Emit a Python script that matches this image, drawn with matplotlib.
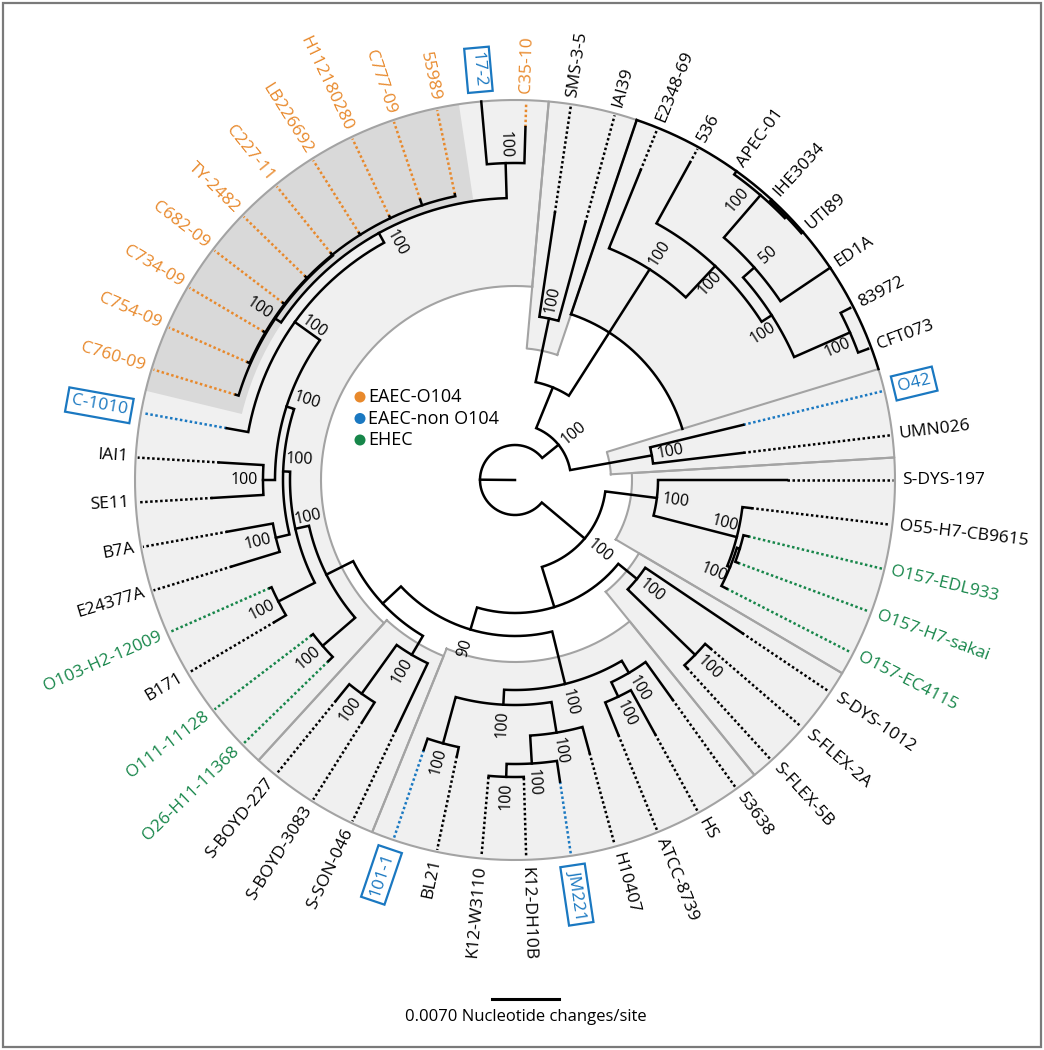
import numpy as np
import matplotlib.pyplot as plt
from matplotlib.patches import Wedge, Circle, Rectangle

# leaves in counter-clockwise order, starting just above 3 o'clock
leaves = ["UMN026", "O42", "CFT073", "83972", "ED1A", "UTI89", "IHE3034", "APEC-01",
          "536", "E2348-69", "IAI39", "SMS-3-5", "C35-10", "17-2", "55989", "C777-09",
          "H112180280", "LB226692", "C227-11", "TY-2482", "C682-09", "C734-09", "C754-09",
          "C760-09", "C-1010", "IAI1", "SE11", "B7A", "E24377A", "O103-H2-12009", "B171",
          "O111-11128", "O26-H11-11368", "S-BOYD-227", "S-BOYD-3083", "S-SON-046", "101-1",
          "BL21", "K12-W3110", "K12-DH10B", "JM221", "H10407", "ATCC-8739", "HS", "53638",
          "S-FLEX-5B", "S-FLEX-2A", "S-DYS-1012", "O157-EC4115", "O157-H7-sakai",
          "O157-EDL933", "O55-H7-CB9615", "S-DYS-197"]

# depth (distance from root) where each leaf's solid branch ends; scale bar = 67 units
leaf_depth = {"UMN026": 230, "O42": 235, "CFT073": 376, "83972": 376, "ED1A": 380,
              "UTI89": 380, "IHE3034": 380, "APEC-01": 380, "536": 362, "E2348-69": 334,
              "IAI39": 267, "SMS-3-5": 270, "C35-10": 353, "17-2": 380, "55989": 292,
              "C777-09": 296, "H112180280": 292, "LB226692": 292, "C227-11": 292,
              "TY-2482": 292, "C682-09": 292, "C734-09": 292, "C754-09": 292, "C760-09": 292,
              "C-1010": 293, "IAI1": 296, "SE11": 303, "B7A": 292, "E24377A": 296,
              "O103-H2-12009": 268, "B171": 279, "O111-11128": 256, "O26-H11-11368": 260,
              "S-BOYD-227": 284, "S-BOYD-3083": 286, "S-SON-046": 277, "101-1": 285,
              "BL21": 282, "K12-W3110": 298, "K12-DH10B": 298, "JM221": 305, "H10407": 283,
              "ATCC-8739": 275, "HS": 290, "53638": 270, "S-FLEX-5B": 255, "S-FLEX-2A": 258,
              "S-DYS-1012": 274, "O157-EC4115": 238, "O157-H7-sakai": 238,
              "O157-EDL933": 240, "O55-H7-CB9615": 238, "S-DYS-197": 272}

# internal nodes: (name, depth, bootstrap, children)
tree = ("root", 35, None, [
    ("A", 56, "100", [
        ("OU", 139, "100", ["UMN026", "O42"]),
        ("B", 100, None, [
            ("D", 165, "100", ["IAI39", "SMS-3-5"]),
            ("C", 250, "100", [
                "E2348-69",
                ("C2", 293, "100", [
                    "536",
                    ("I", 305, "100", [
                        ("E", 366, "100", ["CFT073", "83972"]),
                        ("H", 320, "50", [
                            "ED1A",
                            ("G", 376, "100", [("IU", 378, None, ["UTI89", "IHE3034"]),
                                               "APEC-01"])]),
                    ]),
                ]),
            ]),
        ]),
    ]),
    ("K", 91, "100", [
        ("K1", 143, "100", [
            "S-DYS-197",
            ("K2", 229, "100", [
                "O55-H7-CB9615",
                ("L", 232, "100", ["O157-EC4115",
                                   ("M", 235, None, ["O157-H7-sakai", "O157-EDL933"])]),
            ]),
        ]),
        ("K3", 133, None, [
            ("N", 157, "100", ["S-DYS-1012", ("O", 251, "100", ["S-FLEX-2A", "S-FLEX-5B"])]),
            ("P", 156, "90", [
                ("Q", 210, "100", [
                    ("R", 224, "100", ["53638", ("S", 240, "100", ["HS", "ATCC-8739"])]),
                    ("W", 225, "100", [
                        ("U", 256, "100", [
                            "H10407",
                            ("V", 284, "100", ["JM221",
                                               ("Z", 297, "100", ["K12-DH10B", "K12-W3110"])])]),
                        ("Y", 273, "100", ["BL21", "101-1"]),
                    ]),
                ]),
                ("AA", 181, None, [
                    ("AB", 203, "100", ["S-SON-046",
                                        ("AC", 263, "100", ["S-BOYD-3083", "S-BOYD-227"])]),
                    ("AD", 211, None, [
                        ("OO", 254, "100", ["O26-H11-11368", "O111-11128"]),
                        ("AE", 225, "100", [
                            ("OB2", 266, "100", ["B171", "O103-H2-12009"]),
                            ("EG", 232, "100", [
                                ("BE", 246, "100", ["E24377A", "B7A"]),
                                ("ED", 240, "100", [
                                    ("EF", 252, "100", ["SE11", "IAI1"]),
                                    ("EC", 271, "100", [
                                        "C-1010",
                                        ("EB", 282, "100", [
                                            ("OB", 289, "100", [
                                                "C760-09",
                                                ("OC", 290, None, [
                                                    "C754-09", "C734-09", "C682-09", "TY-2482",
                                                    "C227-11", "LB226692", "H112180280",
                                                    "C777-09", "55989"])]),
                                            ("EA", 317, "100", ["17-2", "C35-10"]),
                                        ]),
                                    ]),
                                ]),
                            ]),
                        ]),
                    ]),
                ]),
            ]),
        ]),
    ]),
])

eaec_o104 = ["C35-10", "55989", "C777-09", "H112180280", "LB226692", "C227-11", "TY-2482",
             "C682-09", "C734-09", "C754-09", "C760-09"]
eaec_non_o104 = ["17-2", "C-1010", "O42", "101-1", "JM221"]
ehec = ["O103-H2-12009", "O111-11128", "O26-H11-11368", "O157-EC4115", "O157-H7-sakai",
        "O157-EDL933"]

# shaded clades: (first leaf, last leaf, inner depth)
clades = [("UMN026", "O42", 96), ("CFT073", "E2348-69", 175), ("IAI39", "SMS-3-5", 132),
          ("C35-10", "O26-H11-11368", 194), ("S-BOYD-227", "S-SON-046", 190),
          ("101-1", "53638", 182), ("S-FLEX-5B", "S-DYS-1012", 144),
          ("O157-EC4115", "S-DYS-197", 117)]
o104_clade = ("55989", "C760-09", 281)

legend_names = ["EAEC-O104", "EAEC-non O104", "EHEC"]
scale_len = 67
scale_label = "0.0070 Nucleotide changes/site"

# ---- style ----
ORANGE, BLUE, GREEN = "#e8892c", "#1a78c1", "#17864a"
LIGHT, DARK, EDGE = "#f0f0f0", "#d9d9d9", "#a3a3a3"
FONT = "Open Sans"
R_TIP = 380
LW = 1.8

# bootstrap labels placed beside the stem instead of beyond the node: (dr, dp)
beside = {"K2": (-15, 10), "L": (-13, -11), "C2": (-16, -8), "I": (-17, -10), "G": (-19, 14),
          "E": (-18, -9), "EB": (-17, -11), "EC": (-18, -7), "ED": (-17, -12),
          "EG": (-16, -12), "AE": (-15, -9)}

step = 360.0 / len(leaves)
ang = {n: (i + 1) * step for i, n in enumerate(leaves)}


def pol(r, a):
    t = np.deg2rad(a)
    return r * np.cos(t), r * np.sin(t)


def color_of(n):
    if n in eaec_o104:
        return ORANGE
    if n in eaec_non_o104:
        return BLUE
    if n in ehec:
        return GREEN
    return "black"


fig = plt.figure(figsize=(10.44, 10.5), dpi=100)
ax = fig.add_axes([0, 0, 1, 1])
ax.set_xlim(-515, 529)
ax.set_ylim(-570, 480)
ax.axis("off")

# clade shading
for a, b, rin in clades:
    t1, t2 = ang[a] - step / 2, ang[b] + step / 2
    ax.add_patch(Wedge((0, 0), R_TIP, t1, t2, width=R_TIP - rin, fc=LIGHT, ec="none", zorder=1))
a, b, rin = o104_clade
ax.add_patch(Wedge((0, 0), R_TIP, ang[a] - step / 2, ang[b] + step / 2, width=R_TIP - rin,
                   fc=DARK, ec="none", zorder=1.5))
for a, b, rin in clades:
    t1, t2 = ang[a] - step / 2, ang[b] + step / 2
    ec = "black" if a == "CFT073" else EDGE
    tt = np.linspace(t1, t2, 200)
    if a == "CFT073":
        ax.plot(*pol(np.full_like(tt, rin), tt), color=ec, lw=LW, zorder=2)
        ax.plot(*pol(np.full_like(tt, R_TIP), tt), color=ec, lw=LW, zorder=2)
        ax.plot(*pol(np.array([rin, R_TIP]), np.array([t2, t2])), color=ec, lw=LW, zorder=2)
        continue
    xs, ys = pol(np.concatenate([[rin], np.full_like(tt, R_TIP), [rin]]),
                 np.concatenate([[t1], tt, [t2]]))
    xi, yi = pol(np.full_like(tt, rin), tt[::-1])
    ax.plot(np.concatenate([xs, xi]), np.concatenate([ys, yi]), color=ec, lw=1.5, zorder=1.8)


def draw(node):
    """draw a subtree, return its angle"""
    if isinstance(node, str):
        return ang[node]
    name, r, boot, kids = node
    kid_ang, kid_r = [], []
    for k in kids:
        kid_ang.append(draw(k))
        kid_r.append(leaf_depth[k] if isinstance(k, str) else k[1])
    order = np.argsort(kid_ang)
    a0, a1 = kid_ang[order[0]], kid_ang[order[-1]]
    tt = np.linspace(a0, a1, max(int(a1 - a0) * 3, 2))
    rr = np.concatenate([[kid_r[order[0]]], np.full_like(tt, r), [kid_r[order[-1]]]])
    aa = np.concatenate([[a0], tt, [a1]])
    ax.plot(*pol(rr, aa), color="black", lw=LW, solid_joinstyle="miter", zorder=4)
    for i in order[1:-1]:
        ax.plot(*pol(np.array([r, kid_r[i]]), np.array([kid_ang[i]] * 2)), color="black",
                lw=LW, zorder=4)
    a = (a0 + a1) / 2
    if boot:
        dr, dp = beside.get(name, (19, 0))
        x, y = pol(r + dr, a)
        t = np.deg2rad(a)
        x, y = x - dp * np.sin(t), y + dp * np.cos(t)
        rot = a if np.cos(t) >= 0 else a - 180
        ax.text(x, y, boot, fontsize=11.5, family=FONT, rotation=rot, ha="center",
                va="center", rotation_mode="anchor", zorder=6)
    return a


root_a = draw(tree)
ax.plot(*pol(np.array([0, tree[1]]), np.array([root_a, root_a])), color="black", lw=LW, zorder=4)

# dotted extensions and leaf labels
for n in leaves:
    a, d = ang[n], leaf_depth[n]
    c = color_of(n)
    if d < R_TIP - 2:
        ax.plot(*pol(np.array([d, R_TIP - 2]), np.array([a, a])), color=c, lw=LW,
                linestyle=(0, (1, 1)), dash_capstyle="butt", zorder=3)
    boxed = n in eaec_non_o104
    x, y = pol(R_TIP + (14 if boxed else 7), a)
    right = np.cos(np.deg2rad(a)) >= 0
    rot = a if right else a - 180
    bbox = dict(boxstyle="square,pad=0.25", fc="white", ec=BLUE, lw=1.6) if boxed else None
    ax.text(x, y, n, fontsize=12.5, family=FONT, color=c, rotation=rot,
            ha="left" if right else "right", va="center", rotation_mode="anchor",
            bbox=bbox, zorder=6)

# legend
for i, (lab, c) in enumerate(zip(legend_names, [ORANGE, BLUE, GREEN])):
    y = 83 - i * 21.5
    ax.add_patch(Circle((-155, y), 5.5, fc=c, ec="none", zorder=6))
    ax.text(-147, y, lab, fontsize=13, family=FONT, va="center", ha="left", zorder=6)

# scale bar
ax.plot([10.5 - scale_len / 2, 10.5 + scale_len / 2], [-519, -519], color="black", lw=2.2)
ax.text(10.5, -537, scale_label, fontsize=12, family=FONT, ha="center", va="center")

ax.add_patch(Rectangle((-512, -567), 1038, 1044, fill=False, ec="#7a7a7a", lw=1.6))

fig.savefig("out.png", dpi=100)
